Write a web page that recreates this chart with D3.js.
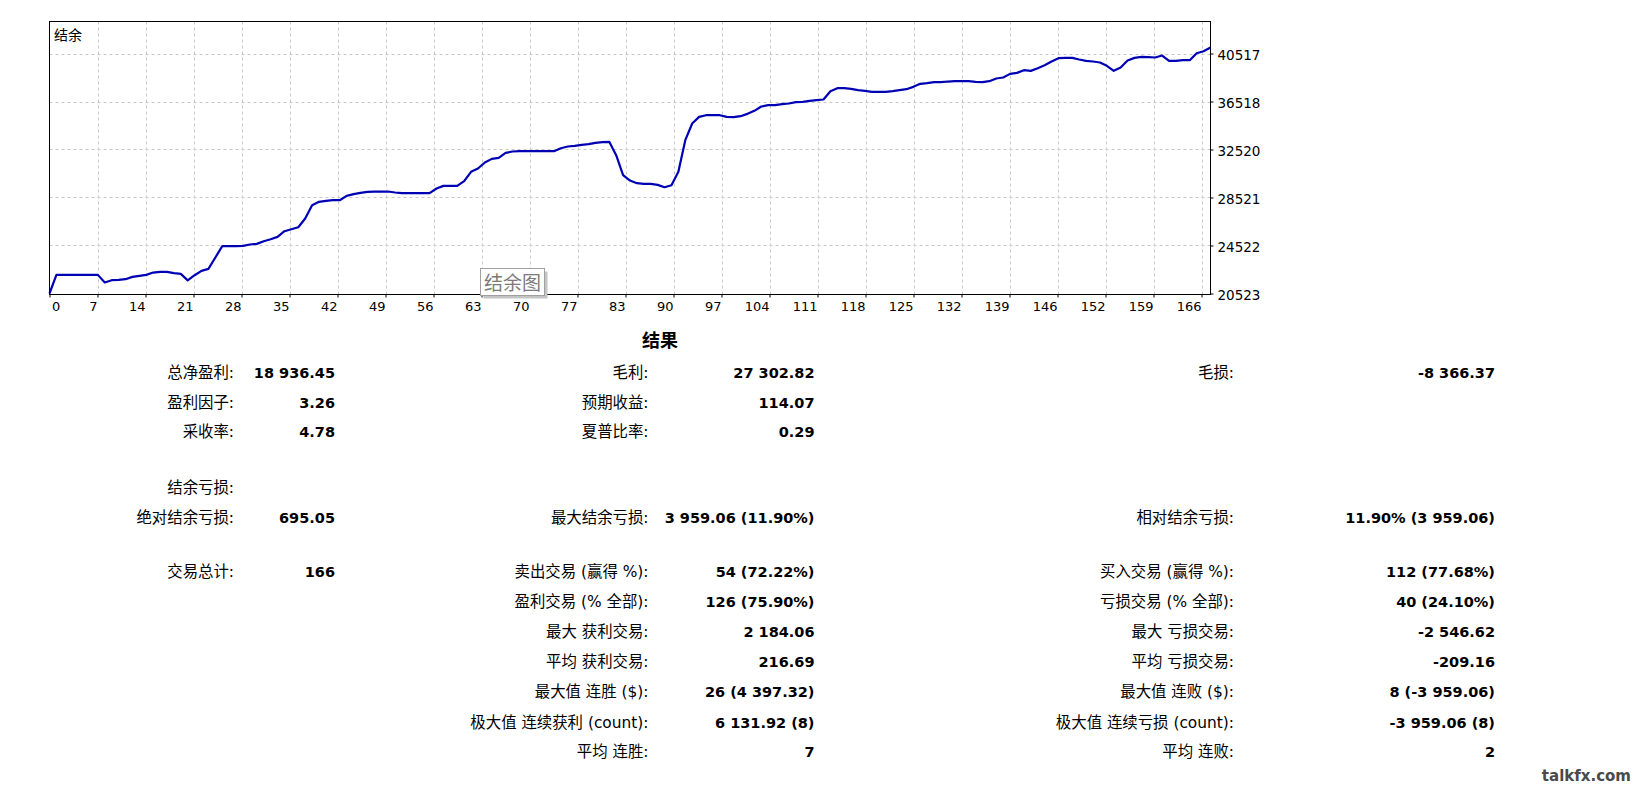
<!DOCTYPE html>
<html><head><meta charset="utf-8">
<script src="https://cdn.jsdelivr.net/npm/d3@7/dist/d3.min.js"></script>
<style>html,body{margin:0;padding:0;background:#fff;} svg{display:block;}</style>
</head><body>
<script>
// ---------- DATA ----------
const balance = [
 20523, 22075, 22075, 22075, 22075, 22075, 22075, 22075, 21440, 21631,
 21659, 21714, 21909, 21992, 22075, 22270, 22325, 22325, 22214, 22159,
 21620, 22048, 22409, 22575, 23520, 24464, 24464, 24464, 24491, 24603,
 24658, 24880, 25047, 25241, 25713, 25880, 26047, 26769, 27880, 28157,
 28241, 28296, 28296, 28657, 28796, 28907, 28991, 29018, 29018, 29018,
 28935, 28879, 28879, 28879, 28879, 28879, 29268, 29490, 29490, 29490,
 29879, 30657, 30934, 31434, 31740, 31823, 32240, 32351, 32379, 32378,
 32378, 32378, 32378, 32378, 32628, 32767, 32823, 32906, 32962, 33073,
 33128, 33156, 32045, 30379, 29935, 29713, 29657, 29657, 29574, 29379,
 29546, 30657, 33295, 34683, 35239, 35377, 35377, 35377, 35239, 35211,
 35294, 35489, 35739, 36099, 36211, 36211, 36294, 36350, 36461, 36489,
 36572, 36627, 36683, 37377, 37627, 37627, 37571, 37460, 37405, 37321,
 37321, 37321, 37377, 37460, 37544, 37738, 37988, 38044, 38127, 38127,
 38182, 38210, 38210, 38210, 38155, 38127, 38210, 38432, 38516, 38821,
 38904, 39127, 39071, 39293, 39543, 39849, 40126, 40154, 40154, 40015,
 39904, 39849, 39765, 39487, 39071, 39349, 39932, 40154, 40237, 40210,
 40182, 40348, 39904, 39904, 39960, 39960, 40543, 40709, 41011
];
const xTickLabels = ["0","7","14","21","28","35","42","49","56","63","70","77","83",
  "90","97","104","111","118","125","132","139","146","152","159","166"];
const yTickValues = [20523, 24522, 28521, 32520, 36518, 40517];
const chartLabel = "结余";
const legendLabel = "结余图";
const resultsTitle = "结果";
const watermark = "talkfx.com";

const colA = [
 ["总净盈利:", "18 936.45"],
 ["盈利因子:", "3.26"],
 ["采收率:", "4.78"],
 ["结余亏损:", ""],
 ["绝对结余亏损:", "695.05"],
 ["交易总计:", "166"],
 null, null, null, null, null, null
];
const colB = [
 ["毛利:", "27 302.82"],
 ["预期收益:", "114.07"],
 ["夏普比率:", "0.29"],
 null,
 ["最大结余亏损:", "3 959.06 (11.90%)"],
 ["卖出交易 (赢得 %):", "54 (72.22%)"],
 ["盈利交易 (% 全部):", "126 (75.90%)"],
 ["最大 获利交易:", "2 184.06"],
 ["平均 获利交易:", "216.69"],
 ["最大值 连胜 ($):", "26 (4 397.32)"],
 ["极大值 连续获利 (count):", "6 131.92 (8)"],
 ["平均 连胜:", "7"]
];
const colC = [
 ["毛损:", "-8 366.37"],
 null,
 null,
 null,
 ["相对结余亏损:", "11.90% (3 959.06)"],
 ["买入交易 (赢得 %):", "112 (77.68%)"],
 ["亏损交易 (% 全部):", "40 (24.10%)"],
 ["最大 亏损交易:", "-2 546.62"],
 ["平均 亏损交易:", "-209.16"],
 ["最大值 连败 ($):", "8 (-3 959.06)"],
 ["极大值 连续亏损 (count):", "-3 959.06 (8)"],
 ["平均 连败:", "2"]
];

// ---------- LAYOUT ----------
const W = 1637, H = 787;
const P = {left: 49.5, right: 1210.5, top: 21.5, bottom: 294.5};
const FONT = "'DejaVu Sans', 'Noto Sans CJK SC', sans-serif";

const svg = d3.select("body").append("svg").attr("width", W).attr("height", H);
svg.append("rect").attr("width", W).attr("height", H).attr("fill", "#fff");

const x = d3.scaleLinear().domain([0, balance.length - 1]).range([P.left, P.right]);
const y = d3.scaleLinear().domain([yTickValues[0], yTickValues[yTickValues.length - 1]]).range([293.5, 53.5]);
const xt = d3.scalePoint().domain(xTickLabels).range([P.left, 1201.5]);

// grid
const grid = svg.append("g").attr("stroke", "#c8c8c8").attr("stroke-dasharray", "3,3").attr("stroke-width", 1);
grid.selectAll("line.h").data(yTickValues.slice(1)).join("line").attr("class", "h")
  .attr("x1", P.left).attr("x2", P.right)
  .attr("y1", d => Math.round(y(d)) + 0.5).attr("y2", d => Math.round(y(d)) + 0.5);
grid.selectAll("line.v").data(xTickLabels.slice(1)).join("line").attr("class", "v")
  .attr("y1", P.top).attr("y2", P.bottom)
  .attr("x1", d => Math.round(xt(d)) + 0.5).attr("x2", d => Math.round(xt(d)) + 0.5);

// balance line
svg.append("path").datum(balance)
  .attr("d", d3.line().x((d, i) => x(i)).y(d => y(d)))
  .attr("fill", "none").attr("stroke", "#0000b4").attr("stroke-width", 2.2)
  .attr("stroke-linejoin", "round");

// frame
svg.append("rect").attr("x", P.left).attr("y", P.top)
  .attr("width", P.right - P.left).attr("height", P.bottom - P.top)
  .attr("fill", "none").attr("stroke", "#000").attr("stroke-width", 1);

// axes
const gx = svg.append("g").attr("transform", `translate(0,${P.bottom})`)
  .call(d3.axisBottom(xt).tickSize(3));
gx.select(".domain").remove();
gx.selectAll(".tick line").attr("stroke", "#000");
gx.selectAll(".tick text")
  .attr("font-family", FONT).attr("font-size", 13).attr("fill", "#000")
  .attr("y", 16.5).attr("dy", 0)
  .attr("text-anchor", (d, i) => i === 0 ? "start" : "end")
  .attr("x", (d, i) => i === 0 ? 2 : -0.5);

const gy = svg.append("g").attr("transform", `translate(${P.right},0)`)
  .call(d3.axisRight(y).tickValues(yTickValues).tickSize(3).tickFormat(d3.format("d")));
gy.select(".domain").remove();
gy.selectAll(".tick line").attr("stroke", "#000");
gy.selectAll(".tick text")
  .attr("font-family", FONT).attr("font-size", 13.5).attr("fill", "#000")
  .attr("x", 7).attr("y", 6.3).attr("dy", 0).attr("text-anchor", "start");

// chart label
svg.append("text").attr("x", 54).attr("y", 40).attr("font-family", FONT)
  .attr("font-size", 14).attr("fill", "#000").text(chartLabel);

// legend box
const lg = svg.append("g");
lg.append("rect").attr("x", 483.5).attr("y", 271.5).attr("width", 64).attr("height", 27).attr("fill", "#c4c4c4");
lg.append("rect").attr("x", 480.5).attr("y", 268.5).attr("width", 64).attr("height", 27)
  .attr("fill", "#fff").attr("stroke", "#a0a0a0");
lg.append("text").attr("x", 512.5).attr("y", 289.5).attr("text-anchor", "middle")
  .attr("font-family", "'Noto Sans CJK SC', sans-serif").attr("font-size", 19).attr("fill", "#7a7a7a")
  .text(legendLabel);

// results title
svg.append("text").attr("x", 660).attr("y", 347).attr("text-anchor", "middle")
  .attr("font-family", "'Noto Sans CJK SC', sans-serif").attr("font-weight", "bold")
  .attr("font-size", 18).attr("fill", "#000").text(resultsTitle);

// stats table
const rowY = [372.7, 402.5, 432.3, 488.3, 517.7, 572.3, 602.3, 632.3, 662.3, 692.3, 722.7, 752.3];
const cols = [
  {data: colA, labelEnd: 234, valueEnd: 335},
  {data: colB, labelEnd: 648.5, valueEnd: 814.5},
  {data: colC, labelEnd: 1234, valueEnd: 1495}
];
cols.forEach(c => {
  const rows = c.data.map((r, i) => r ? {label: r[0], value: r[1], i} : null).filter(Boolean);
  const g = svg.append("g");
  g.selectAll("text.l").data(rows).join("text").attr("class", "l")
    .attr("x", c.labelEnd).attr("y", d => rowY[d.i] + 5)
    .attr("text-anchor", "end").attr("font-family", FONT).attr("font-size", 15.4)
    .attr("fill", "#000").text(d => d.label);
  g.selectAll("text.v").data(rows).join("text").attr("class", "v")
    .attr("x", c.valueEnd).attr("y", d => rowY[d.i] + 5)
    .attr("text-anchor", "end").attr("font-family", FONT).attr("font-size", 14.5)
    .attr("font-weight", "bold").attr("fill", "#000").text(d => d.value);
});

// watermark
svg.append("text").attr("x", 1631).attr("y", 781).attr("text-anchor", "end")
  .attr("font-family", FONT).attr("font-weight", "bold").attr("font-size", 15)
  .attr("fill", "#4a4a4a").text(watermark);
</script>
</body></html>
